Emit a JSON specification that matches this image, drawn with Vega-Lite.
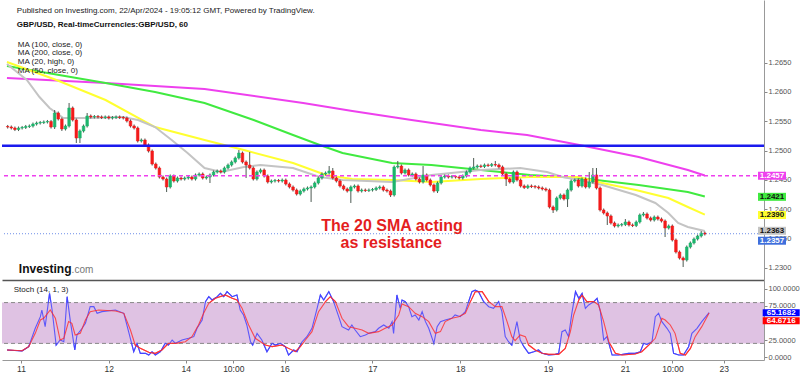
{
"$schema":"https://vega.github.io/schema/vega-lite/v6.json",
"padding":0,
"background":"white",
"spacing":0,
"config":{"view":{"stroke":null},"font":"Liberation Sans"},
"resolve":{"scale":{"color":"independent"}},
"datasets":{
"candles":[
{"i":-5,"o":1.25411,"h":1.25437,"l":1.25376,"c":1.25402},
{"i":-4,"o":1.25402,"h":1.25428,"l":1.25359,"c":1.25385},
{"i":-3,"o":1.25385,"h":1.25411,"l":1.25333,"c":1.25359},
{"i":-2,"o":1.25359,"h":1.25411,"l":1.25333,"c":1.25385},
{"i":-1,"o":1.25385,"h":1.25420,"l":1.25359,"c":1.25394},
{"i":0,"o":1.25394,"h":1.25437,"l":1.25368,"c":1.25411},
{"i":1,"o":1.25411,"h":1.25445,"l":1.25385,"c":1.25419},
{"i":2,"o":1.25419,"h":1.25479,"l":1.25393,"c":1.25453},
{"i":3,"o":1.25453,"h":1.25496,"l":1.25427,"c":1.25470},
{"i":4,"o":1.25470,"h":1.25505,"l":1.25444,"c":1.25479},
{"i":5,"o":1.25479,"h":1.25514,"l":1.25453,"c":1.25488},
{"i":6,"o":1.25488,"h":1.25522,"l":1.25462,"c":1.25496},
{"i":7,"o":1.25496,"h":1.25522,"l":1.25376,"c":1.25402},
{"i":8,"o":1.25402,"h":1.25692,"l":1.25368,"c":1.25641},
{"i":9,"o":1.25641,"h":1.25667,"l":1.25513,"c":1.25539},
{"i":10,"o":1.25539,"h":1.25565,"l":1.25334,"c":1.25368},
{"i":11,"o":1.25368,"h":1.25445,"l":1.25342,"c":1.25419},
{"i":12,"o":1.25419,"h":1.25812,"l":1.25393,"c":1.25727},
{"i":13,"o":1.25727,"h":1.25753,"l":1.25496,"c":1.25522},
{"i":14,"o":1.25522,"h":1.25548,"l":1.25129,"c":1.25214},
{"i":15,"o":1.25214,"h":1.25360,"l":1.25129,"c":1.25334},
{"i":16,"o":1.25334,"h":1.25445,"l":1.25308,"c":1.25419},
{"i":17,"o":1.25419,"h":1.25641,"l":1.25393,"c":1.25590},
{"i":18,"o":1.25590,"h":1.25616,"l":1.25547,"c":1.25573},
{"i":19,"o":1.25573,"h":1.25607,"l":1.25547,"c":1.25581},
{"i":20,"o":1.25581,"h":1.25607,"l":1.25547,"c":1.25573},
{"i":21,"o":1.25573,"h":1.25599,"l":1.25538,"c":1.25564},
{"i":22,"o":1.25564,"h":1.25599,"l":1.25538,"c":1.25573},
{"i":23,"o":1.25573,"h":1.25599,"l":1.25530,"c":1.25556},
{"i":24,"o":1.25556,"h":1.25590,"l":1.25530,"c":1.25564},
{"i":25,"o":1.25564,"h":1.25599,"l":1.25538,"c":1.25573},
{"i":26,"o":1.25573,"h":1.25599,"l":1.25538,"c":1.25564},
{"i":27,"o":1.25564,"h":1.25590,"l":1.25530,"c":1.25556},
{"i":28,"o":1.25556,"h":1.25582,"l":1.25479,"c":1.25505},
{"i":29,"o":1.25505,"h":1.25531,"l":1.25393,"c":1.25419},
{"i":30,"o":1.25419,"h":1.25445,"l":1.25359,"c":1.25385},
{"i":31,"o":1.25385,"h":1.25411,"l":1.25137,"c":1.25163},
{"i":32,"o":1.25163,"h":1.25206,"l":1.25137,"c":1.25180},
{"i":33,"o":1.25180,"h":1.25206,"l":1.25069,"c":1.25095},
{"i":34,"o":1.25095,"h":1.25121,"l":1.24966,"c":1.24992},
{"i":35,"o":1.24992,"h":1.25018,"l":1.24744,"c":1.24770},
{"i":36,"o":1.24770,"h":1.24796,"l":1.24676,"c":1.24702},
{"i":37,"o":1.24702,"h":1.24728,"l":1.24522,"c":1.24548},
{"i":38,"o":1.24548,"h":1.24574,"l":1.24488,"c":1.24514},
{"i":39,"o":1.24514,"h":1.24540,"l":1.24292,"c":1.24378},
{"i":40,"o":1.24378,"h":1.24592,"l":1.24352,"c":1.24566},
{"i":41,"o":1.24566,"h":1.24592,"l":1.24454,"c":1.24480},
{"i":42,"o":1.24480,"h":1.24557,"l":1.24454,"c":1.24531},
{"i":43,"o":1.24531,"h":1.24557,"l":1.24488,"c":1.24514},
{"i":44,"o":1.24514,"h":1.24557,"l":1.24488,"c":1.24531},
{"i":45,"o":1.24531,"h":1.24574,"l":1.24505,"c":1.24548},
{"i":46,"o":1.24548,"h":1.24574,"l":1.24488,"c":1.24514},
{"i":47,"o":1.24514,"h":1.24609,"l":1.24488,"c":1.24583},
{"i":48,"o":1.24583,"h":1.24626,"l":1.24557,"c":1.24600},
{"i":49,"o":1.24600,"h":1.24626,"l":1.24505,"c":1.24531},
{"i":50,"o":1.24531,"h":1.24574,"l":1.24505,"c":1.24548},
{"i":51,"o":1.24548,"h":1.24609,"l":1.24446,"c":1.24583},
{"i":52,"o":1.24583,"h":1.24660,"l":1.24557,"c":1.24634},
{"i":53,"o":1.24634,"h":1.24677,"l":1.24608,"c":1.24651},
{"i":54,"o":1.24651,"h":1.24677,"l":1.24608,"c":1.24634},
{"i":55,"o":1.24634,"h":1.24728,"l":1.24608,"c":1.24702},
{"i":56,"o":1.24702,"h":1.24779,"l":1.24676,"c":1.24753},
{"i":57,"o":1.24753,"h":1.24831,"l":1.24727,"c":1.24805},
{"i":58,"o":1.24805,"h":1.24899,"l":1.24779,"c":1.24873},
{"i":59,"o":1.24873,"h":1.25009,"l":1.24847,"c":1.24958},
{"i":60,"o":1.24958,"h":1.24984,"l":1.24779,"c":1.24805},
{"i":61,"o":1.24805,"h":1.24831,"l":1.24531,"c":1.24753},
{"i":62,"o":1.24753,"h":1.24975,"l":1.24676,"c":1.24702},
{"i":63,"o":1.24702,"h":1.24728,"l":1.24488,"c":1.24514},
{"i":64,"o":1.24514,"h":1.24660,"l":1.24488,"c":1.24634},
{"i":65,"o":1.24634,"h":1.24694,"l":1.24608,"c":1.24668},
{"i":66,"o":1.24668,"h":1.24694,"l":1.24540,"c":1.24566},
{"i":67,"o":1.24566,"h":1.24592,"l":1.24437,"c":1.24463},
{"i":68,"o":1.24463,"h":1.24506,"l":1.24437,"c":1.24480},
{"i":69,"o":1.24480,"h":1.24515,"l":1.24454,"c":1.24489},
{"i":70,"o":1.24489,"h":1.24515,"l":1.24454,"c":1.24480},
{"i":71,"o":1.24480,"h":1.24523,"l":1.24454,"c":1.24497},
{"i":72,"o":1.24497,"h":1.24523,"l":1.24403,"c":1.24429},
{"i":73,"o":1.24429,"h":1.24455,"l":1.24352,"c":1.24378},
{"i":74,"o":1.24378,"h":1.24404,"l":1.24300,"c":1.24326},
{"i":75,"o":1.24326,"h":1.24352,"l":1.24232,"c":1.24258},
{"i":76,"o":1.24258,"h":1.24335,"l":1.24232,"c":1.24309},
{"i":77,"o":1.24309,"h":1.24370,"l":1.24283,"c":1.24344},
{"i":78,"o":1.24344,"h":1.24387,"l":1.24318,"c":1.24361},
{"i":79,"o":1.24361,"h":1.24404,"l":1.24122,"c":1.24378},
{"i":80,"o":1.24378,"h":1.24472,"l":1.24352,"c":1.24446},
{"i":81,"o":1.24446,"h":1.24557,"l":1.24420,"c":1.24531},
{"i":82,"o":1.24531,"h":1.24626,"l":1.24505,"c":1.24600},
{"i":83,"o":1.24600,"h":1.24643,"l":1.24574,"c":1.24617},
{"i":84,"o":1.24617,"h":1.24736,"l":1.24591,"c":1.24651},
{"i":85,"o":1.24651,"h":1.24702,"l":1.24505,"c":1.24531},
{"i":86,"o":1.24531,"h":1.24557,"l":1.24454,"c":1.24480},
{"i":87,"o":1.24480,"h":1.24506,"l":1.24369,"c":1.24395},
{"i":88,"o":1.24395,"h":1.24421,"l":1.24318,"c":1.24344},
{"i":89,"o":1.24344,"h":1.24370,"l":1.24283,"c":1.24309},
{"i":90,"o":1.24309,"h":1.24404,"l":1.24105,"c":1.24378},
{"i":91,"o":1.24378,"h":1.24421,"l":1.24352,"c":1.24395},
{"i":92,"o":1.24395,"h":1.24421,"l":1.24283,"c":1.24309},
{"i":93,"o":1.24309,"h":1.24352,"l":1.24283,"c":1.24326},
{"i":94,"o":1.24326,"h":1.24352,"l":1.24292,"c":1.24318},
{"i":95,"o":1.24318,"h":1.24352,"l":1.24292,"c":1.24326},
{"i":96,"o":1.24326,"h":1.24361,"l":1.24300,"c":1.24335},
{"i":97,"o":1.24335,"h":1.24387,"l":1.24309,"c":1.24361},
{"i":98,"o":1.24361,"h":1.24404,"l":1.24335,"c":1.24378},
{"i":99,"o":1.24378,"h":1.24404,"l":1.24300,"c":1.24326},
{"i":100,"o":1.24326,"h":1.24352,"l":1.24283,"c":1.24309},
{"i":101,"o":1.24309,"h":1.24335,"l":1.24207,"c":1.24241},
{"i":102,"o":1.24241,"h":1.24745,"l":1.24215,"c":1.24719},
{"i":103,"o":1.24719,"h":1.24822,"l":1.24693,"c":1.24736},
{"i":104,"o":1.24736,"h":1.24762,"l":1.24591,"c":1.24617},
{"i":105,"o":1.24617,"h":1.24694,"l":1.24591,"c":1.24668},
{"i":106,"o":1.24668,"h":1.24694,"l":1.24557,"c":1.24583},
{"i":107,"o":1.24583,"h":1.24626,"l":1.24557,"c":1.24600},
{"i":108,"o":1.24600,"h":1.24626,"l":1.24488,"c":1.24514},
{"i":109,"o":1.24514,"h":1.24540,"l":1.24437,"c":1.24463},
{"i":110,"o":1.24463,"h":1.24736,"l":1.24437,"c":1.24583},
{"i":111,"o":1.24583,"h":1.24609,"l":1.24471,"c":1.24497},
{"i":112,"o":1.24497,"h":1.24523,"l":1.24386,"c":1.24412},
{"i":113,"o":1.24412,"h":1.24438,"l":1.24283,"c":1.24309},
{"i":114,"o":1.24309,"h":1.24472,"l":1.24275,"c":1.24446},
{"i":115,"o":1.24446,"h":1.24574,"l":1.24420,"c":1.24548},
{"i":116,"o":1.24548,"h":1.24592,"l":1.24522,"c":1.24566},
{"i":117,"o":1.24566,"h":1.24592,"l":1.24522,"c":1.24548},
{"i":118,"o":1.24548,"h":1.24583,"l":1.24522,"c":1.24557},
{"i":119,"o":1.24557,"h":1.24583,"l":1.24522,"c":1.24548},
{"i":120,"o":1.24548,"h":1.24574,"l":1.24505,"c":1.24531},
{"i":121,"o":1.24531,"h":1.24592,"l":1.24505,"c":1.24566},
{"i":122,"o":1.24566,"h":1.24660,"l":1.24540,"c":1.24634},
{"i":123,"o":1.24634,"h":1.24728,"l":1.24608,"c":1.24702},
{"i":124,"o":1.24702,"h":1.24873,"l":1.24676,"c":1.24719},
{"i":125,"o":1.24719,"h":1.24762,"l":1.24693,"c":1.24736},
{"i":126,"o":1.24736,"h":1.24762,"l":1.24702,"c":1.24728},
{"i":127,"o":1.24728,"h":1.24779,"l":1.24702,"c":1.24753},
{"i":128,"o":1.24753,"h":1.24779,"l":1.24719,"c":1.24745},
{"i":129,"o":1.24745,"h":1.24788,"l":1.24719,"c":1.24762},
{"i":130,"o":1.24762,"h":1.24822,"l":1.24727,"c":1.24753},
{"i":131,"o":1.24753,"h":1.24779,"l":1.24693,"c":1.24719},
{"i":132,"o":1.24719,"h":1.24745,"l":1.24574,"c":1.24600},
{"i":133,"o":1.24600,"h":1.24626,"l":1.24395,"c":1.24514},
{"i":134,"o":1.24514,"h":1.24540,"l":1.24437,"c":1.24463},
{"i":135,"o":1.24463,"h":1.24660,"l":1.24437,"c":1.24634},
{"i":136,"o":1.24634,"h":1.24660,"l":1.24471,"c":1.24497},
{"i":137,"o":1.24497,"h":1.24523,"l":1.24369,"c":1.24395},
{"i":138,"o":1.24395,"h":1.24421,"l":1.24343,"c":1.24369},
{"i":139,"o":1.24369,"h":1.24421,"l":1.24343,"c":1.24395},
{"i":140,"o":1.24395,"h":1.24421,"l":1.24360,"c":1.24386},
{"i":141,"o":1.24386,"h":1.24412,"l":1.24352,"c":1.24378},
{"i":142,"o":1.24378,"h":1.24404,"l":1.24335,"c":1.24361},
{"i":143,"o":1.24361,"h":1.24387,"l":1.24318,"c":1.24344},
{"i":144,"o":1.24344,"h":1.24370,"l":1.24300,"c":1.24326},
{"i":145,"o":1.24326,"h":1.24352,"l":1.24010,"c":1.24036},
{"i":146,"o":1.24036,"h":1.24062,"l":1.23934,"c":1.23985},
{"i":147,"o":1.23985,"h":1.24216,"l":1.23959,"c":1.24190},
{"i":148,"o":1.24190,"h":1.24267,"l":1.24164,"c":1.24241},
{"i":149,"o":1.24241,"h":1.24267,"l":1.24147,"c":1.24173},
{"i":150,"o":1.24173,"h":1.24352,"l":1.24036,"c":1.24326},
{"i":151,"o":1.24326,"h":1.24506,"l":1.24300,"c":1.24480},
{"i":152,"o":1.24480,"h":1.24523,"l":1.24454,"c":1.24497},
{"i":153,"o":1.24497,"h":1.24523,"l":1.24369,"c":1.24395},
{"i":154,"o":1.24395,"h":1.24540,"l":1.24369,"c":1.24514},
{"i":155,"o":1.24514,"h":1.24540,"l":1.24352,"c":1.24378},
{"i":156,"o":1.24378,"h":1.24634,"l":1.24352,"c":1.24463},
{"i":157,"o":1.24463,"h":1.24702,"l":1.24437,"c":1.24583},
{"i":158,"o":1.24583,"h":1.24702,"l":1.24335,"c":1.24361},
{"i":159,"o":1.24361,"h":1.24387,"l":1.23959,"c":1.23985},
{"i":160,"o":1.23985,"h":1.24011,"l":1.23908,"c":1.23934},
{"i":161,"o":1.23934,"h":1.23960,"l":1.23729,"c":1.23883},
{"i":162,"o":1.23883,"h":1.23909,"l":1.23737,"c":1.23763},
{"i":163,"o":1.23763,"h":1.23789,"l":1.23686,"c":1.23712},
{"i":164,"o":1.23712,"h":1.23755,"l":1.23686,"c":1.23729},
{"i":165,"o":1.23729,"h":1.23763,"l":1.23703,"c":1.23737},
{"i":166,"o":1.23737,"h":1.23831,"l":1.23711,"c":1.23780},
{"i":167,"o":1.23780,"h":1.23806,"l":1.23703,"c":1.23729},
{"i":168,"o":1.23729,"h":1.23755,"l":1.23694,"c":1.23720},
{"i":169,"o":1.23720,"h":1.23806,"l":1.23694,"c":1.23780},
{"i":170,"o":1.23780,"h":1.23926,"l":1.23754,"c":1.23900},
{"i":171,"o":1.23900,"h":1.23951,"l":1.23874,"c":1.23917},
{"i":172,"o":1.23917,"h":1.23943,"l":1.23822,"c":1.23848},
{"i":173,"o":1.23848,"h":1.23874,"l":1.23788,"c":1.23814},
{"i":174,"o":1.23814,"h":1.23891,"l":1.23788,"c":1.23865},
{"i":175,"o":1.23865,"h":1.23891,"l":1.23805,"c":1.23831},
{"i":176,"o":1.23831,"h":1.23857,"l":1.23771,"c":1.23797},
{"i":177,"o":1.23797,"h":1.23823,"l":1.23524,"c":1.23678},
{"i":178,"o":1.23678,"h":1.23738,"l":1.23652,"c":1.23712},
{"i":179,"o":1.23712,"h":1.23738,"l":1.23447,"c":1.23473},
{"i":180,"o":1.23473,"h":1.23499,"l":1.23242,"c":1.23268},
{"i":181,"o":1.23268,"h":1.23294,"l":1.23139,"c":1.23165},
{"i":182,"o":1.23165,"h":1.23191,"l":1.23012,"c":1.23131},
{"i":183,"o":1.23131,"h":1.23379,"l":1.23105,"c":1.23353},
{"i":184,"o":1.23353,"h":1.23448,"l":1.23327,"c":1.23422},
{"i":185,"o":1.23422,"h":1.23516,"l":1.23396,"c":1.23490},
{"i":186,"o":1.23490,"h":1.23567,"l":1.23464,"c":1.23541},
{"i":187,"o":1.23541,"h":1.23626,"l":1.23515,"c":1.23592},
{"i":188,"o":1.23592,"h":1.23618,"l":1.23549,"c":1.23575}
],
"ma":[
{"s":"MA200","i":-5.2,"v":1.26239},{"s":"MA200","i":22.1,"v":1.26153},{"s":"MA200","i":49.5,"v":1.26051},{"s":"MA200","i":76.8,"v":1.25812},{"s":"MA200","i":90.4,"v":1.25675},{"s":"MA200","i":106.8,"v":1.25522},{"s":"MA200","i":126,"v":1.25351},{"s":"MA200","i":138.8,"v":1.25266},{"s":"MA200","i":153.3,"v":1.25095},{"s":"MA200","i":169.7,"v":1.24890},{"s":"MA200","i":183.3,"v":1.24668},{"s":"MA200","i":188,"v":1.24575},
{"s":"MA100","i":-5.2,"v":1.26444},{"s":"MA100","i":22.1,"v":1.26153},{"s":"MA100","i":35.8,"v":1.25999},{"s":"MA100","i":49.5,"v":1.25812},{"s":"MA100","i":63.1,"v":1.25522},{"s":"MA100","i":74,"v":1.25266},{"s":"MA100","i":81.4,"v":1.25095},{"s":"MA100","i":87.7,"v":1.24958},{"s":"MA100","i":101.4,"v":1.24787},{"s":"MA100","i":112.3,"v":1.24753},{"s":"MA100","i":126,"v":1.24668},{"s":"MA100","i":139.6,"v":1.24583},{"s":"MA100","i":153.3,"v":1.24531},{"s":"MA100","i":169.7,"v":1.24412},{"s":"MA100","i":183.3,"v":1.24292},{"s":"MA100","i":188,"v":1.24216},
{"s":"MA50","i":-5.2,"v":1.26512},{"s":"MA50","i":8.5,"v":1.26205},{"s":"MA50","i":22.1,"v":1.25863},{"s":"MA50","i":35.8,"v":1.25402},{"s":"MA50","i":49.5,"v":1.25180},{"s":"MA50","i":60.4,"v":1.25009},{"s":"MA50","i":74,"v":1.24787},{"s":"MA50","i":83.1,"v":1.24583},{"s":"MA50","i":90.4,"v":1.24514},{"s":"MA50","i":101.4,"v":1.24497},{"s":"MA50","i":112.3,"v":1.24463},{"s":"MA50","i":126,"v":1.24514},{"s":"MA50","i":139.6,"v":1.24548},{"s":"MA50","i":153.3,"v":1.24548},{"s":"MA50","i":159.6,"v":1.24446},{"s":"MA50","i":168.9,"v":1.24326},{"s":"MA50","i":177.9,"v":1.24190},{"s":"MA50","i":183.3,"v":1.24036},{"s":"MA50","i":188,"v":1.23905},
{"s":"MA20","i":-5.2,"v":1.26478},{"s":"MA20","i":0.3,"v":1.26205},{"s":"MA20","i":3.8,"v":1.25914},{"s":"MA20","i":6.6,"v":1.25727},{"s":"MA20","i":10.4,"v":1.25556},{"s":"MA20","i":17.5,"v":1.25556},{"s":"MA20","i":26.8,"v":1.25573},{"s":"MA20","i":31.1,"v":1.25522},{"s":"MA20","i":35.8,"v":1.25402},{"s":"MA20","i":40.4,"v":1.25180},{"s":"MA20","i":44.8,"v":1.24958},{"s":"MA20","i":49.5,"v":1.24702},{"s":"MA20","i":54.1,"v":1.24634},{"s":"MA20","i":60.4,"v":1.24719},{"s":"MA20","i":65,"v":1.24753},{"s":"MA20","i":74,"v":1.24702},{"s":"MA20","i":81.4,"v":1.24548},{"s":"MA20","i":87.7,"v":1.24497},{"s":"MA20","i":101.4,"v":1.24463},{"s":"MA20","i":112.3,"v":1.24583},{"s":"MA20","i":126,"v":1.24668},{"s":"MA20","i":136.9,"v":1.24702},{"s":"MA20","i":144.3,"v":1.24634},{"s":"MA20","i":148.6,"v":1.24548},{"s":"MA20","i":153.3,"v":1.24497},{"s":"MA20","i":159.6,"v":1.24412},{"s":"MA20","i":168.9,"v":1.24241},{"s":"MA20","i":174.3,"v":1.24105},{"s":"MA20","i":177.9,"v":1.23934},{"s":"MA20","i":180.6,"v":1.23763},{"s":"MA20","i":183.3,"v":1.23695},{"s":"MA20","i":188,"v":1.23626}
],
"last":[{"s":"MA200","v":1.2457},{"s":"MA100","v":1.2421},{"s":"MA50","v":1.2390},{"s":"MA20","v":1.2363}],
"stoch":[
{"s":"K","i":-3.8,"v":10.3},{"s":"K","i":0.3,"v":8.8},{"s":"K","i":2.1,"v":15.2},{"s":"K","i":3.9,"v":42.2},{"s":"K","i":5.3,"v":59.3},{"s":"K","i":5.7,"v":69.1},{"s":"K","i":6.6,"v":44.6},{"s":"K","i":7.8,"v":93.6},{"s":"K","i":8.5,"v":69.1},{"s":"K","i":9.6,"v":17.6},{"s":"K","i":10.7,"v":25},{"s":"K","i":11.7,"v":22.5},{"s":"K","i":12.6,"v":88.7},{"s":"K","i":13.5,"v":52},{"s":"K","i":14.7,"v":10.3},{"s":"K","i":15.3,"v":32.4},{"s":"K","i":16.7,"v":42.2},{"s":"K","i":17.6,"v":49.5},{"s":"K","i":18.9,"v":74},{"s":"K","i":19.9,"v":74},{"s":"K","i":20.8,"v":64.2},{"s":"K","i":22.1,"v":66.7},{"s":"K","i":25.8,"v":69.1},{"s":"K","i":28.1,"v":64.2},{"s":"K","i":29.4,"v":37.3},{"s":"K","i":30.8,"v":7.8},{"s":"K","i":31.7,"v":20.1},{"s":"K","i":32.6,"v":5.4},{"s":"K","i":34,"v":5.4},{"s":"K","i":34.9,"v":2.9},{"s":"K","i":35.8,"v":7.8},{"s":"K","i":36.7,"v":2.9},{"s":"K","i":38.1,"v":7.8},{"s":"K","i":39.4,"v":20.1},{"s":"K","i":40.3,"v":17.6},{"s":"K","i":41.3,"v":25},{"s":"K","i":42.2,"v":20.1},{"s":"K","i":44,"v":25},{"s":"K","i":45.8,"v":27.5},{"s":"K","i":47.2,"v":29.9},{"s":"K","i":48.1,"v":42.2},{"s":"K","i":49.5,"v":54.4},{"s":"K","i":50.4,"v":81.4},{"s":"K","i":51.3,"v":88.7},{"s":"K","i":52.2,"v":83.8},{"s":"K","i":53.6,"v":88.7},{"s":"K","i":54.5,"v":93.6},{"s":"K","i":55.4,"v":88.7},{"s":"K","i":56.3,"v":96.1},{"s":"K","i":57.7,"v":88.7},{"s":"K","i":59,"v":91.2},{"s":"K","i":59.9,"v":69.1},{"s":"K","i":60.8,"v":61.8},{"s":"K","i":61.7,"v":47.1},{"s":"K","i":62.7,"v":22.5},{"s":"K","i":63.3,"v":17.6},{"s":"K","i":64.5,"v":34.8},{"s":"K","i":65.8,"v":25},{"s":"K","i":67.2,"v":7.8},{"s":"K","i":68.6,"v":20.1},{"s":"K","i":69.5,"v":17.6},{"s":"K","i":70.9,"v":20.1},{"s":"K","i":72.2,"v":15.2},{"s":"K","i":73.1,"v":2.9},{"s":"K","i":74.5,"v":10.3},{"s":"K","i":75.4,"v":7.8},{"s":"K","i":76.8,"v":22.5},{"s":"K","i":78.1,"v":29.9},{"s":"K","i":79.5,"v":42.2},{"s":"K","i":80.9,"v":71.6},{"s":"K","i":81.8,"v":91.2},{"s":"K","i":82.7,"v":83.8},{"s":"K","i":84.1,"v":96.1},{"s":"K","i":85.4,"v":81.4},{"s":"K","i":86.8,"v":59.3},{"s":"K","i":87.7,"v":44.6},{"s":"K","i":89.5,"v":39.7},{"s":"K","i":90.4,"v":47.1},{"s":"K","i":91.3,"v":39.7},{"s":"K","i":92.7,"v":29.9},{"s":"K","i":94.1,"v":32.4},{"s":"K","i":95,"v":34.8},{"s":"K","i":96.8,"v":37.3},{"s":"K","i":97.7,"v":42.2},{"s":"K","i":99.1,"v":47.1},{"s":"K","i":100.5,"v":42.2},{"s":"K","i":101.4,"v":52},{"s":"K","i":101.8,"v":34.8},{"s":"K","i":102.7,"v":91.2},{"s":"K","i":103.6,"v":71.6},{"s":"K","i":104.1,"v":83.8},{"s":"K","i":105,"v":81.4},{"s":"K","i":105.9,"v":74},{"s":"K","i":106.8,"v":59.3},{"s":"K","i":107.7,"v":61.8},{"s":"K","i":108.7,"v":54.4},{"s":"K","i":109.6,"v":66.7},{"s":"K","i":110.5,"v":52},{"s":"K","i":111.4,"v":42.2},{"s":"K","i":112.8,"v":20.1},{"s":"K","i":113.7,"v":44.6},{"s":"K","i":114.6,"v":52},{"s":"K","i":115.9,"v":54.4},{"s":"K","i":117.7,"v":56.9},{"s":"K","i":118.6,"v":61.8},{"s":"K","i":120,"v":59.3},{"s":"K","i":121.4,"v":66.7},{"s":"K","i":122.3,"v":81.4},{"s":"K","i":123.2,"v":96.1},{"s":"K","i":124.1,"v":98.5},{"s":"K","i":125,"v":96.1},{"s":"K","i":126.4,"v":81.4},{"s":"K","i":127.8,"v":74},{"s":"K","i":129.1,"v":71.6},{"s":"K","i":130.5,"v":81.4},{"s":"K","i":131.4,"v":66.7},{"s":"K","i":132.3,"v":29.9},{"s":"K","i":133.2,"v":22.5},{"s":"K","i":134.1,"v":17.6},{"s":"K","i":135.5,"v":52},{"s":"K","i":136.4,"v":25},{"s":"K","i":137.4,"v":15.2},{"s":"K","i":138.7,"v":5.4},{"s":"K","i":140.1,"v":7.8},{"s":"K","i":141.4,"v":10.3},{"s":"K","i":142.4,"v":5.4},{"s":"K","i":144.2,"v":2.9},{"s":"K","i":146,"v":3.9},{"s":"K","i":146.9,"v":5.4},{"s":"K","i":147.8,"v":37.3},{"s":"K","i":148.7,"v":39.7},{"s":"K","i":149.6,"v":29.9},{"s":"K","i":150.5,"v":64.2},{"s":"K","i":151.5,"v":96.1},{"s":"K","i":152.4,"v":86.3},{"s":"K","i":153.3,"v":93.6},{"s":"K","i":154.2,"v":71.6},{"s":"K","i":155.1,"v":76.5},{"s":"K","i":156.5,"v":81.4},{"s":"K","i":157.4,"v":86.3},{"s":"K","i":158.3,"v":66.7},{"s":"K","i":159.2,"v":25},{"s":"K","i":160.1,"v":29.9},{"s":"K","i":161.5,"v":2.9},{"s":"K","i":163.3,"v":2.9},{"s":"K","i":166,"v":5.4},{"s":"K","i":167.8,"v":5.4},{"s":"K","i":169.2,"v":7.8},{"s":"K","i":170.1,"v":20.1},{"s":"K","i":171,"v":18.6},{"s":"K","i":172.4,"v":22.5},{"s":"K","i":173.3,"v":59.3},{"s":"K","i":174.2,"v":64.2},{"s":"K","i":175.1,"v":52},{"s":"K","i":176.5,"v":42.2},{"s":"K","i":177.4,"v":34.8},{"s":"K","i":178.3,"v":5.4},{"s":"K","i":179.7,"v":2.9},{"s":"K","i":181,"v":2.9},{"s":"K","i":182.4,"v":15.2},{"s":"K","i":183.3,"v":34.8},{"s":"K","i":184.7,"v":42.2},{"s":"K","i":186,"v":52},{"s":"K","i":188,"v":65.17},
{"s":"D","i":-3.8,"v":10.3},{"s":"D","i":0.3,"v":9.3},{"s":"D","i":2.1,"v":15.2},{"s":"D","i":3.9,"v":34.8},{"s":"D","i":5.3,"v":54.4},{"s":"D","i":6.2,"v":56.9},{"s":"D","i":8,"v":69.1},{"s":"D","i":9.4,"v":56.9},{"s":"D","i":10.7,"v":25},{"s":"D","i":11.7,"v":27.5},{"s":"D","i":13,"v":52},{"s":"D","i":13.9,"v":49.5},{"s":"D","i":14.8,"v":32.4},{"s":"D","i":16.2,"v":34.8},{"s":"D","i":17.6,"v":54.4},{"s":"D","i":18.9,"v":66.7},{"s":"D","i":21.2,"v":69.1},{"s":"D","i":25.8,"v":67.6},{"s":"D","i":28.1,"v":64.2},{"s":"D","i":29.9,"v":39.7},{"s":"D","i":31.2,"v":17.6},{"s":"D","i":32.6,"v":12.7},{"s":"D","i":34.9,"v":6.9},{"s":"D","i":36.7,"v":5.4},{"s":"D","i":38.5,"v":10.3},{"s":"D","i":40.3,"v":20.1},{"s":"D","i":42.2,"v":20.1},{"s":"D","i":44.9,"v":22.5},{"s":"D","i":46.7,"v":29.9},{"s":"D","i":48.5,"v":47.1},{"s":"D","i":49.9,"v":64.2},{"s":"D","i":51.3,"v":78.9},{"s":"D","i":53.1,"v":86.3},{"s":"D","i":55.8,"v":91.2},{"s":"D","i":57.7,"v":86.3},{"s":"D","i":59,"v":83.8},{"s":"D","i":60.4,"v":71.6},{"s":"D","i":62.2,"v":47.1},{"s":"D","i":64,"v":27.5},{"s":"D","i":66.8,"v":17.6},{"s":"D","i":68.6,"v":15.2},{"s":"D","i":71.3,"v":17.6},{"s":"D","i":73.1,"v":12.7},{"s":"D","i":75,"v":7.8},{"s":"D","i":76.3,"v":15.2},{"s":"D","i":77.7,"v":25},{"s":"D","i":79.5,"v":37.3},{"s":"D","i":81.3,"v":66.7},{"s":"D","i":83.2,"v":81.4},{"s":"D","i":84.5,"v":88.7},{"s":"D","i":85.9,"v":81.4},{"s":"D","i":87.7,"v":56.9},{"s":"D","i":89.5,"v":44.6},{"s":"D","i":91.3,"v":42.2},{"s":"D","i":93.2,"v":39.7},{"s":"D","i":95,"v":34.8},{"s":"D","i":97.7,"v":37.3},{"s":"D","i":99.5,"v":42.2},{"s":"D","i":101.4,"v":47.1},{"s":"D","i":103.2,"v":61.8},{"s":"D","i":104.1,"v":78},{"s":"D","i":105.9,"v":74},{"s":"D","i":107.7,"v":64.2},{"s":"D","i":109.6,"v":59.3},{"s":"D","i":111.4,"v":52},{"s":"D","i":113.2,"v":34.8},{"s":"D","i":114.6,"v":37.3},{"s":"D","i":115.9,"v":52},{"s":"D","i":117.7,"v":56.9},{"s":"D","i":119.6,"v":59.3},{"s":"D","i":121.4,"v":64.2},{"s":"D","i":122.8,"v":81.4},{"s":"D","i":124.1,"v":96},{"s":"D","i":126,"v":96.1},{"s":"D","i":127.8,"v":81.4},{"s":"D","i":129.6,"v":74},{"s":"D","i":131.4,"v":74},{"s":"D","i":132.8,"v":52},{"s":"D","i":134.1,"v":29.9},{"s":"D","i":135,"v":24},{"s":"D","i":136.4,"v":32.4},{"s":"D","i":137.8,"v":29.9},{"s":"D","i":138.7,"v":17.6},{"s":"D","i":140.5,"v":10.3},{"s":"D","i":142.4,"v":5.4},{"s":"D","i":144.2,"v":3.9},{"s":"D","i":146.9,"v":3.9},{"s":"D","i":148.7,"v":12.7},{"s":"D","i":150.1,"v":37.3},{"s":"D","i":151,"v":61.8},{"s":"D","i":152.4,"v":83.8},{"s":"D","i":153.3,"v":91},{"s":"D","i":154.6,"v":81.4},{"s":"D","i":156.5,"v":81.4},{"s":"D","i":157.8,"v":76.5},{"s":"D","i":159.2,"v":52},{"s":"D","i":160.6,"v":22.5},{"s":"D","i":162.4,"v":5.4},{"s":"D","i":164.2,"v":2.9},{"s":"D","i":167.8,"v":4.4},{"s":"D","i":169.6,"v":7.8},{"s":"D","i":171.5,"v":17.6},{"s":"D","i":173.3,"v":27.5},{"s":"D","i":175.1,"v":56.9},{"s":"D","i":176,"v":54.4},{"s":"D","i":177.4,"v":47.1},{"s":"D","i":178.7,"v":34.8},{"s":"D","i":180.1,"v":5.4},{"s":"D","i":181.5,"v":2.9},{"s":"D","i":182.9,"v":12.7},{"s":"D","i":184.2,"v":29.9},{"s":"D","i":186,"v":44.6},{"s":"D","i":188,"v":64.67}
]
},
"vconcat":[
{
"width":762,"height":280,
"layer":[
{"data":{"name":"ma"},"mark":{"type":"line","strokeWidth":2,"clip":true},
 "encoding":{
  "x":{"field":"i","type":"quantitative","scale":{"domain":[-5.19,203.0],"nice":false,"zero":false},
       "axis":{"orient":"bottom","labels":false,"ticks":false,"grid":false,"domain":true,"domainColor":"#555","domainWidth":1.5,"title":null}},
  "y":{"field":"v","type":"quantitative","scale":{"domain":[1.2279,1.275705],"nice":false,"zero":false},
       "axis":{"orient":"right","values":[1.23,1.235,1.24,1.245,1.25,1.255,1.26,1.265],"format":".4f","grid":false,"title":null,"labelOverlap":false,"labelBound":false,"tickSize":3,"tickColor":"#888","domainColor":"#999","labelColor":"#555","labelFontSize":7.5,"labelPadding":1,"zindex":0}},
  "color":{"field":"s","type":"nominal","scale":{"domain":["MA200","MA100","MA50","MA20"],"range":["#ee40ee","#40ea40","#ffff30","#c4c4c4"]},"legend":null}
 }},
{"data":{"name":"candles"},"mark":{"type":"rule","strokeWidth":1,"color":"#4d5a52","clip":true},
 "encoding":{
  "x":{"field":"i","type":"quantitative","scale":{"domain":[-5.19,203.0],"nice":false,"zero":false},
       "axis":{"orient":"bottom","labels":false,"ticks":false,"grid":false,"domain":true,"domainColor":"#555","domainWidth":1.5,"title":null}},
  "y":{"field":"l","type":"quantitative","scale":{"domain":[1.2279,1.275705],"nice":false,"zero":false},
       "axis":{"orient":"right","values":[1.23,1.235,1.24,1.245,1.25,1.255,1.26,1.265],"format":".4f","grid":false,"title":null,"labelOverlap":false,"labelBound":false,"tickSize":3,"tickColor":"#888","domainColor":"#999","labelColor":"#555","labelFontSize":7.5,"labelPadding":1,"zindex":0}},
  "y2":{"field":"h"}
 }},
{"data":{"name":"candles"},"mark":{"type":"bar","size":2.6,"strokeWidth":0.6,"clip":true},
 "encoding":{
  "x":{"field":"i","type":"quantitative","scale":{"domain":[-5.19,203.0],"nice":false,"zero":false},
       "axis":{"orient":"bottom","labels":false,"ticks":false,"grid":false,"domain":true,"domainColor":"#555","domainWidth":1.5,"title":null}},
  "y":{"field":"o","type":"quantitative","scale":{"domain":[1.2279,1.275705],"nice":false,"zero":false},
       "axis":{"orient":"right","values":[1.23,1.235,1.24,1.245,1.25,1.255,1.26,1.265],"format":".4f","grid":false,"title":null,"labelOverlap":false,"labelBound":false,"tickSize":3,"tickColor":"#888","domainColor":"#999","labelColor":"#555","labelFontSize":7.5,"labelPadding":1,"zindex":0}},
  "y2":{"field":"c"},
  "fill":{"condition":{"test":"datum.c >= datum.o","value":"#1db56c"},"value":"#f21b1b"},
  "stroke":{"condition":{"test":"datum.c >= datum.o","value":"#1db56c"},"value":"#f21b1b"}
 }},
{"data":{"values":[{}]},"mark":{"type":"rule","strokeWidth":2.5,"color":"#1a1aee"},
 "encoding":{"y":{"datum":1.2508,"type":"quantitative","scale":{"domain":[1.2279,1.275705],"nice":false,"zero":false},
       "axis":{"orient":"right","values":[1.23,1.235,1.24,1.245,1.25,1.255,1.26,1.265],"format":".4f","grid":false,"title":null,"labelOverlap":false,"labelBound":false,"tickSize":3,"tickColor":"#888","domainColor":"#999","labelColor":"#555","labelFontSize":7.5,"labelPadding":1,"zindex":0}}}},
{"data":{"values":[{}]},"mark":{"type":"rule","strokeWidth":1.5,"color":"#ee40ee","strokeDash":[4,3]},
 "encoding":{"y":{"datum":1.2457,"type":"quantitative","scale":{"domain":[1.2279,1.275705],"nice":false,"zero":false},
       "axis":{"orient":"right","values":[1.23,1.235,1.24,1.245,1.25,1.255,1.26,1.265],"format":".4f","grid":false,"title":null,"labelOverlap":false,"labelBound":false,"tickSize":3,"tickColor":"#888","domainColor":"#999","labelColor":"#555","labelFontSize":7.5,"labelPadding":1,"zindex":0}}}},
{"data":{"values":[{}]},"mark":{"type":"rule","strokeWidth":1,"color":"#6f8fe8","strokeDash":[1,2]},
 "encoding":{"y":{"datum":1.2358,"type":"quantitative","scale":{"domain":[1.2279,1.275705],"nice":false,"zero":false},
       "axis":{"orient":"right","values":[1.23,1.235,1.24,1.245,1.25,1.255,1.26,1.265],"format":".4f","grid":false,"title":null,"labelOverlap":false,"labelBound":false,"tickSize":3,"tickColor":"#888","domainColor":"#999","labelColor":"#555","labelFontSize":7.5,"labelPadding":1,"zindex":0}}}},
{"data":{"name":"last"},"mark":{"type":"tick","orient":"horizontal","size":28,"thickness":8,"filled":true,"opacity":1},
 "encoding":{
  "x":{"datum":206.6,"type":"quantitative","scale":{"domain":[-5.19,203.0],"nice":false,"zero":false},
       "axis":{"orient":"bottom","labels":false,"ticks":false,"grid":false,"domain":true,"domainColor":"#555","domainWidth":1.5,"title":null}},
  "y":{"field":"v","type":"quantitative","scale":{"domain":[1.2279,1.275705],"nice":false,"zero":false},
       "axis":{"orient":"right","values":[1.23,1.235,1.24,1.245,1.25,1.255,1.26,1.265],"format":".4f","grid":false,"title":null,"labelOverlap":false,"labelBound":false,"tickSize":3,"tickColor":"#888","domainColor":"#999","labelColor":"#555","labelFontSize":7.5,"labelPadding":1,"zindex":0}},
  "color":{"field":"s","type":"nominal","scale":{"domain":["MA200","MA100","MA50","MA20"],"range":["#ee40ee","#40ea40","#ffff30","#c4c4c4"]},"legend":null}
 }},
{"data":{"name":"last"},"mark":{"type":"text","fontSize":8,"fontWeight":"bold","align":"center","baseline":"middle"},
 "encoding":{
  "x":{"datum":206.6,"type":"quantitative","scale":{"domain":[-5.19,203.0],"nice":false,"zero":false},
       "axis":{"orient":"bottom","labels":false,"ticks":false,"grid":false,"domain":true,"domainColor":"#555","domainWidth":1.5,"title":null}},
  "y":{"field":"v","type":"quantitative","scale":{"domain":[1.2279,1.275705],"nice":false,"zero":false},
       "axis":{"orient":"right","values":[1.23,1.235,1.24,1.245,1.25,1.255,1.26,1.265],"format":".4f","grid":false,"title":null,"labelOverlap":false,"labelBound":false,"tickSize":3,"tickColor":"#888","domainColor":"#999","labelColor":"#555","labelFontSize":7.5,"labelPadding":1,"zindex":0}},
  "text":{"field":"v","type":"quantitative","format":".4f"},
  "color":{"condition":{"test":"datum.s === 'MA200'","value":"white"},"value":"#111"}
 }},
{"data":{"values":[{}]},"mark":{"type":"tick","orient":"horizontal","size":28,"thickness":8,"filled":true,"opacity":1,"color":"#3f6fdc","yOffset":6.4},
 "encoding":{
  "x":{"datum":206.6,"type":"quantitative","scale":{"domain":[-5.19,203.0],"nice":false,"zero":false},
       "axis":{"orient":"bottom","labels":false,"ticks":false,"grid":false,"domain":true,"domainColor":"#555","domainWidth":1.5,"title":null}},
  "y":{"datum":1.2357,"type":"quantitative","scale":{"domain":[1.2279,1.275705],"nice":false,"zero":false},
       "axis":{"orient":"right","values":[1.23,1.235,1.24,1.245,1.25,1.255,1.26,1.265],"format":".4f","grid":false,"title":null,"labelOverlap":false,"labelBound":false,"tickSize":3,"tickColor":"#888","domainColor":"#999","labelColor":"#555","labelFontSize":7.5,"labelPadding":1,"zindex":0}}
 }},
{"data":{"values":[{}]},"mark":{"type":"text","fontSize":8,"fontWeight":"bold","align":"center","baseline":"middle","color":"white","yOffset":6.4},
 "encoding":{
  "x":{"datum":206.6,"type":"quantitative","scale":{"domain":[-5.19,203.0],"nice":false,"zero":false},
       "axis":{"orient":"bottom","labels":false,"ticks":false,"grid":false,"domain":true,"domainColor":"#555","domainWidth":1.5,"title":null}},
  "y":{"datum":1.2357,"type":"quantitative","scale":{"domain":[1.2279,1.275705],"nice":false,"zero":false},
       "axis":{"orient":"right","values":[1.23,1.235,1.24,1.245,1.25,1.255,1.26,1.265],"format":".4f","grid":false,"title":null,"labelOverlap":false,"labelBound":false,"tickSize":3,"tickColor":"#888","domainColor":"#999","labelColor":"#555","labelFontSize":7.5,"labelPadding":1,"zindex":0}},
  "text":{"value":"1.2357"}
 }},
{"data":{"values":[{}]},"mark":{"type":"text","fontSize":8,"align":"left","baseline":"middle","color":"#222"},
 "encoding":{
  "x":{"datum":-2.46,"type":"quantitative","scale":{"domain":[-5.19,203.0],"nice":false,"zero":false},
       "axis":{"orient":"bottom","labels":false,"ticks":false,"grid":false,"domain":true,"domainColor":"#555","domainWidth":1.5,"title":null}},
  "y":{"datum":1.27388,"type":"quantitative","scale":{"domain":[1.2279,1.275705],"nice":false,"zero":false},
       "axis":{"orient":"right","values":[1.23,1.235,1.24,1.245,1.25,1.255,1.26,1.265],"format":".4f","grid":false,"title":null,"labelOverlap":false,"labelBound":false,"tickSize":3,"tickColor":"#888","domainColor":"#999","labelColor":"#555","labelFontSize":7.5,"labelPadding":1,"zindex":0}},
  "text":{"value":"Published on Investing.com, 22/Apr/2024 - 19:05:12 GMT, Powered by TradingView."}
 }},
{"data":{"values":[{}]},"mark":{"type":"text","fontSize":8,"fontWeight":"bold","align":"left","baseline":"middle","color":"#111"},
 "encoding":{
  "x":{"datum":-2.46,"type":"quantitative","scale":{"domain":[-5.19,203.0],"nice":false,"zero":false},
       "axis":{"orient":"bottom","labels":false,"ticks":false,"grid":false,"domain":true,"domainColor":"#555","domainWidth":1.5,"title":null}},
  "y":{"datum":1.27149,"type":"quantitative","scale":{"domain":[1.2279,1.275705],"nice":false,"zero":false},
       "axis":{"orient":"right","values":[1.23,1.235,1.24,1.245,1.25,1.255,1.26,1.265],"format":".4f","grid":false,"title":null,"labelOverlap":false,"labelBound":false,"tickSize":3,"tickColor":"#888","domainColor":"#999","labelColor":"#555","labelFontSize":7.5,"labelPadding":1,"zindex":0}},
  "text":{"value":"GBP/USD, Real-timeCurrencies:GBP/USD, 60"}
 }},
{"data":{"values":[{}]},"mark":{"type":"text","fontSize":8,"align":"left","baseline":"top","lineHeight":8.7,"color":"#222"},
 "encoding":{
  "x":{"datum":-2.2,"type":"quantitative","scale":{"domain":[-5.19,203.0],"nice":false,"zero":false},
       "axis":{"orient":"bottom","labels":false,"ticks":false,"grid":false,"domain":true,"domainColor":"#555","domainWidth":1.5,"title":null}},
  "y":{"datum":1.26874,"type":"quantitative","scale":{"domain":[1.2279,1.275705],"nice":false,"zero":false},
       "axis":{"orient":"right","values":[1.23,1.235,1.24,1.245,1.25,1.255,1.26,1.265],"format":".4f","grid":false,"title":null,"labelOverlap":false,"labelBound":false,"tickSize":3,"tickColor":"#888","domainColor":"#999","labelColor":"#555","labelFontSize":7.5,"labelPadding":1,"zindex":0}},
  "text":{"value":["MA (100, close, 0)","MA (200, close, 0)","MA (20, high, 0)","MA (50, close, 0)"]}
 }},
{"data":{"values":[{}]},"mark":{"type":"text","fontSize":16,"fontWeight":"bold","align":"center","baseline":"middle","color":"#e41e1e"},
 "encoding":{
  "x":{"datum":101.4,"type":"quantitative","scale":{"domain":[-5.19,203.0],"nice":false,"zero":false},
       "axis":{"orient":"bottom","labels":false,"ticks":false,"grid":false,"domain":true,"domainColor":"#555","domainWidth":1.5,"title":null}},
  "y":{"datum":1.23712,"type":"quantitative","scale":{"domain":[1.2279,1.275705],"nice":false,"zero":false},
       "axis":{"orient":"right","values":[1.23,1.235,1.24,1.245,1.25,1.255,1.26,1.265],"format":".4f","grid":false,"title":null,"labelOverlap":false,"labelBound":false,"tickSize":3,"tickColor":"#888","domainColor":"#999","labelColor":"#555","labelFontSize":7.5,"labelPadding":1,"zindex":0}},
  "text":{"value":"The 20 SMA acting"}
 }},
{"data":{"values":[{}]},"mark":{"type":"text","fontSize":16,"fontWeight":"bold","align":"center","baseline":"middle","color":"#e41e1e"},
 "encoding":{
  "x":{"datum":101.2,"type":"quantitative","scale":{"domain":[-5.19,203.0],"nice":false,"zero":false},
       "axis":{"orient":"bottom","labels":false,"ticks":false,"grid":false,"domain":true,"domainColor":"#555","domainWidth":1.5,"title":null}},
  "y":{"datum":1.23421,"type":"quantitative","scale":{"domain":[1.2279,1.275705],"nice":false,"zero":false},
       "axis":{"orient":"right","values":[1.23,1.235,1.24,1.245,1.25,1.255,1.26,1.265],"format":".4f","grid":false,"title":null,"labelOverlap":false,"labelBound":false,"tickSize":3,"tickColor":"#888","domainColor":"#999","labelColor":"#555","labelFontSize":7.5,"labelPadding":1,"zindex":0}},
  "text":{"value":"as resistance"}
 }},
{"data":{"values":[{}]},"mark":{"type":"text","fontSize":12,"fontWeight":"bold","align":"left","baseline":"alphabetic","color":"#111"},
 "encoding":{
  "x":{"datum":-1.91,"type":"quantitative","scale":{"domain":[-5.19,203.0],"nice":false,"zero":false},
       "axis":{"orient":"bottom","labels":false,"ticks":false,"grid":false,"domain":true,"domainColor":"#555","domainWidth":1.5,"title":null}},
  "y":{"datum":1.22918,"type":"quantitative","scale":{"domain":[1.2279,1.275705],"nice":false,"zero":false},
       "axis":{"orient":"right","values":[1.23,1.235,1.24,1.245,1.25,1.255,1.26,1.265],"format":".4f","grid":false,"title":null,"labelOverlap":false,"labelBound":false,"tickSize":3,"tickColor":"#888","domainColor":"#999","labelColor":"#555","labelFontSize":7.5,"labelPadding":1,"zindex":0}},
  "text":{"value":"Investing"}
 }},
{"data":{"values":[{}]},"mark":{"type":"text","fontSize":10,"align":"left","baseline":"alphabetic","color":"#777"},
 "encoding":{
  "x":{"datum":12.7,"type":"quantitative","scale":{"domain":[-5.19,203.0],"nice":false,"zero":false},
       "axis":{"orient":"bottom","labels":false,"ticks":false,"grid":false,"domain":true,"domainColor":"#555","domainWidth":1.5,"title":null}},
  "y":{"datum":1.22918,"type":"quantitative","scale":{"domain":[1.2279,1.275705],"nice":false,"zero":false},
       "axis":{"orient":"right","values":[1.23,1.235,1.24,1.245,1.25,1.255,1.26,1.265],"format":".4f","grid":false,"title":null,"labelOverlap":false,"labelBound":false,"tickSize":3,"tickColor":"#888","domainColor":"#999","labelColor":"#555","labelFontSize":7.5,"labelPadding":1,"zindex":0}},
  "text":{"value":".com"}
 }}
]
},
{
"width":762,"height":80,
"layer":[
{"data":{"name":"stoch"},"mark":{"type":"line","strokeWidth":1.1,"opacity":0.8,"clip":true},
 "encoding":{
  "x":{"field":"i","type":"quantitative","scale":{"domain":[-5.19,203.0],"nice":false,"zero":false},
       "axis":{"orient":"bottom","values":[0,24,45,58,72,96,120,144,165,178,192],"labelExpr":"['11','12','14','10:00','16','17','18','19','21','10:00','23'][indexof([0,24,45,58,72,96,120,144,165,178,192], datum.value)]","grid":false,"title":null,"labelOverlap":false,"tickSize":3,"tickColor":"#888","domainColor":"#999","labelColor":"#333","labelFontSize":8.5,"labelPadding":1}},
  "y":{"field":"v","type":"quantitative","scale":{"domain":[-4.4,113.2],"nice":false,"zero":false},
       "axis":{"orient":"right","values":[0,25,75,100],"format":".4f","grid":false,"title":null,"labelOverlap":false,"labelBound":false,"tickSize":3,"tickColor":"#888","domainColor":"#999","labelColor":"#555","labelFontSize":7.5,"labelPadding":1,"zindex":0}},
  "color":{"field":"s","type":"nominal","scale":{"domain":["K","D"],"range":["#3c3cff","#ff2a2a"]},"legend":null}
 }},
{"data":{"values":[{}]},"mark":{"type":"rect","color":"#dfc2e3"},
 "encoding":{
  "y":{"datum":20,"type":"quantitative","scale":{"domain":[-4.4,113.2],"nice":false,"zero":false},
       "axis":{"orient":"right","values":[0,25,75,100],"format":".4f","grid":false,"title":null,"labelOverlap":false,"labelBound":false,"tickSize":3,"tickColor":"#888","domainColor":"#999","labelColor":"#555","labelFontSize":7.5,"labelPadding":1,"zindex":0}},
  "y2":{"datum":80}
 }},
{"data":{"values":[{"v":20},{"v":80}]},"mark":{"type":"rule","color":"#888","strokeDash":[4,3],"strokeWidth":1},
 "encoding":{
  "y":{"field":"v","type":"quantitative","scale":{"domain":[-4.4,113.2],"nice":false,"zero":false},
       "axis":{"orient":"right","values":[0,25,75,100],"format":".4f","grid":false,"title":null,"labelOverlap":false,"labelBound":false,"tickSize":3,"tickColor":"#888","domainColor":"#999","labelColor":"#555","labelFontSize":7.5,"labelPadding":1,"zindex":0}}
 }},
{"data":{"name":"stoch"},"mark":{"type":"line","strokeWidth":1.1,"opacity":0.8,"clip":true},
 "encoding":{
  "x":{"field":"i","type":"quantitative","scale":{"domain":[-5.19,203.0],"nice":false,"zero":false},
       "axis":{"orient":"bottom","values":[0,24,45,58,72,96,120,144,165,178,192],"labelExpr":"['11','12','14','10:00','16','17','18','19','21','10:00','23'][indexof([0,24,45,58,72,96,120,144,165,178,192], datum.value)]","grid":false,"title":null,"labelOverlap":false,"tickSize":3,"tickColor":"#888","domainColor":"#999","labelColor":"#333","labelFontSize":8.5,"labelPadding":1}},
  "y":{"field":"v","type":"quantitative","scale":{"domain":[-4.4,113.2],"nice":false,"zero":false},
       "axis":{"orient":"right","values":[0,25,75,100],"format":".4f","grid":false,"title":null,"labelOverlap":false,"labelBound":false,"tickSize":3,"tickColor":"#888","domainColor":"#999","labelColor":"#555","labelFontSize":7.5,"labelPadding":1,"zindex":0}},
  "color":{"field":"s","type":"nominal","scale":{"domain":["K","D"],"range":["#3c3cff","#ff2a2a"]},"legend":null}
 }},
{"data":{"values":[{}]},"mark":{"type":"tick","orient":"horizontal","size":37,"thickness":7,"filled":true,"opacity":1,"color":"#0000ff"},
 "encoding":{
  "x":{"datum":207.7,"type":"quantitative","scale":{"domain":[-5.19,203.0],"nice":false,"zero":false},
       "axis":{"orient":"bottom","values":[0,24,45,58,72,96,120,144,165,178,192],"labelExpr":"['11','12','14','10:00','16','17','18','19','21','10:00','23'][indexof([0,24,45,58,72,96,120,144,165,178,192], datum.value)]","grid":false,"title":null,"labelOverlap":false,"tickSize":3,"tickColor":"#888","domainColor":"#999","labelColor":"#333","labelFontSize":8.5,"labelPadding":1}},
  "y":{"datum":65.1682,"type":"quantitative","scale":{"domain":[-4.4,113.2],"nice":false,"zero":false},
       "axis":{"orient":"right","values":[0,25,75,100],"format":".4f","grid":false,"title":null,"labelOverlap":false,"labelBound":false,"tickSize":3,"tickColor":"#888","domainColor":"#999","labelColor":"#555","labelFontSize":7.5,"labelPadding":1,"zindex":0}}
 }},
{"data":{"values":[{}]},"mark":{"type":"text","fontSize":8,"fontWeight":"bold","align":"center","baseline":"middle","color":"white"},
 "encoding":{
  "x":{"datum":207.7,"type":"quantitative","scale":{"domain":[-5.19,203.0],"nice":false,"zero":false},
       "axis":{"orient":"bottom","values":[0,24,45,58,72,96,120,144,165,178,192],"labelExpr":"['11','12','14','10:00','16','17','18','19','21','10:00','23'][indexof([0,24,45,58,72,96,120,144,165,178,192], datum.value)]","grid":false,"title":null,"labelOverlap":false,"tickSize":3,"tickColor":"#888","domainColor":"#999","labelColor":"#333","labelFontSize":8.5,"labelPadding":1}},
  "y":{"datum":65.1682,"type":"quantitative","scale":{"domain":[-4.4,113.2],"nice":false,"zero":false},
       "axis":{"orient":"right","values":[0,25,75,100],"format":".4f","grid":false,"title":null,"labelOverlap":false,"labelBound":false,"tickSize":3,"tickColor":"#888","domainColor":"#999","labelColor":"#555","labelFontSize":7.5,"labelPadding":1,"zindex":0}},
  "text":{"value":"65.1682"}
 }},
{"data":{"values":[{}]},"mark":{"type":"tick","orient":"horizontal","size":37,"thickness":7,"filled":true,"opacity":1,"color":"#ff0000","yOffset":7.7},
 "encoding":{
  "x":{"datum":207.7,"type":"quantitative","scale":{"domain":[-5.19,203.0],"nice":false,"zero":false},
       "axis":{"orient":"bottom","values":[0,24,45,58,72,96,120,144,165,178,192],"labelExpr":"['11','12','14','10:00','16','17','18','19','21','10:00','23'][indexof([0,24,45,58,72,96,120,144,165,178,192], datum.value)]","grid":false,"title":null,"labelOverlap":false,"tickSize":3,"tickColor":"#888","domainColor":"#999","labelColor":"#333","labelFontSize":8.5,"labelPadding":1}},
  "y":{"datum":64.6716,"type":"quantitative","scale":{"domain":[-4.4,113.2],"nice":false,"zero":false},
       "axis":{"orient":"right","values":[0,25,75,100],"format":".4f","grid":false,"title":null,"labelOverlap":false,"labelBound":false,"tickSize":3,"tickColor":"#888","domainColor":"#999","labelColor":"#555","labelFontSize":7.5,"labelPadding":1,"zindex":0}}
 }},
{"data":{"values":[{}]},"mark":{"type":"text","fontSize":8,"fontWeight":"bold","align":"center","baseline":"middle","color":"white","yOffset":7.7},
 "encoding":{
  "x":{"datum":207.7,"type":"quantitative","scale":{"domain":[-5.19,203.0],"nice":false,"zero":false},
       "axis":{"orient":"bottom","values":[0,24,45,58,72,96,120,144,165,178,192],"labelExpr":"['11','12','14','10:00','16','17','18','19','21','10:00','23'][indexof([0,24,45,58,72,96,120,144,165,178,192], datum.value)]","grid":false,"title":null,"labelOverlap":false,"tickSize":3,"tickColor":"#888","domainColor":"#999","labelColor":"#333","labelFontSize":8.5,"labelPadding":1}},
  "y":{"datum":64.6716,"type":"quantitative","scale":{"domain":[-4.4,113.2],"nice":false,"zero":false},
       "axis":{"orient":"right","values":[0,25,75,100],"format":".4f","grid":false,"title":null,"labelOverlap":false,"labelBound":false,"tickSize":3,"tickColor":"#888","domainColor":"#999","labelColor":"#555","labelFontSize":7.5,"labelPadding":1,"zindex":0}},
  "text":{"value":"64.6716"}
 }},
{"data":{"values":[{}]},"mark":{"type":"text","fontSize":8,"align":"left","baseline":"middle","color":"#222"},
 "encoding":{
  "x":{"datum":-1.98,"type":"quantitative","scale":{"domain":[-5.19,203.0],"nice":false,"zero":false},
       "axis":{"orient":"bottom","values":[0,24,45,58,72,96,120,144,165,178,192],"labelExpr":"['11','12','14','10:00','16','17','18','19','21','10:00','23'][indexof([0,24,45,58,72,96,120,144,165,178,192], datum.value)]","grid":false,"title":null,"labelOverlap":false,"tickSize":3,"tickColor":"#888","domainColor":"#999","labelColor":"#333","labelFontSize":8.5,"labelPadding":1}},
  "y":{"datum":98.5,"type":"quantitative","scale":{"domain":[-4.4,113.2],"nice":false,"zero":false},
       "axis":{"orient":"right","values":[0,25,75,100],"format":".4f","grid":false,"title":null,"labelOverlap":false,"labelBound":false,"tickSize":3,"tickColor":"#888","domainColor":"#999","labelColor":"#555","labelFontSize":7.5,"labelPadding":1,"zindex":0}},
  "text":{"value":"Stoch (14, 1, 3)"}
 }}
]
}
]
}
